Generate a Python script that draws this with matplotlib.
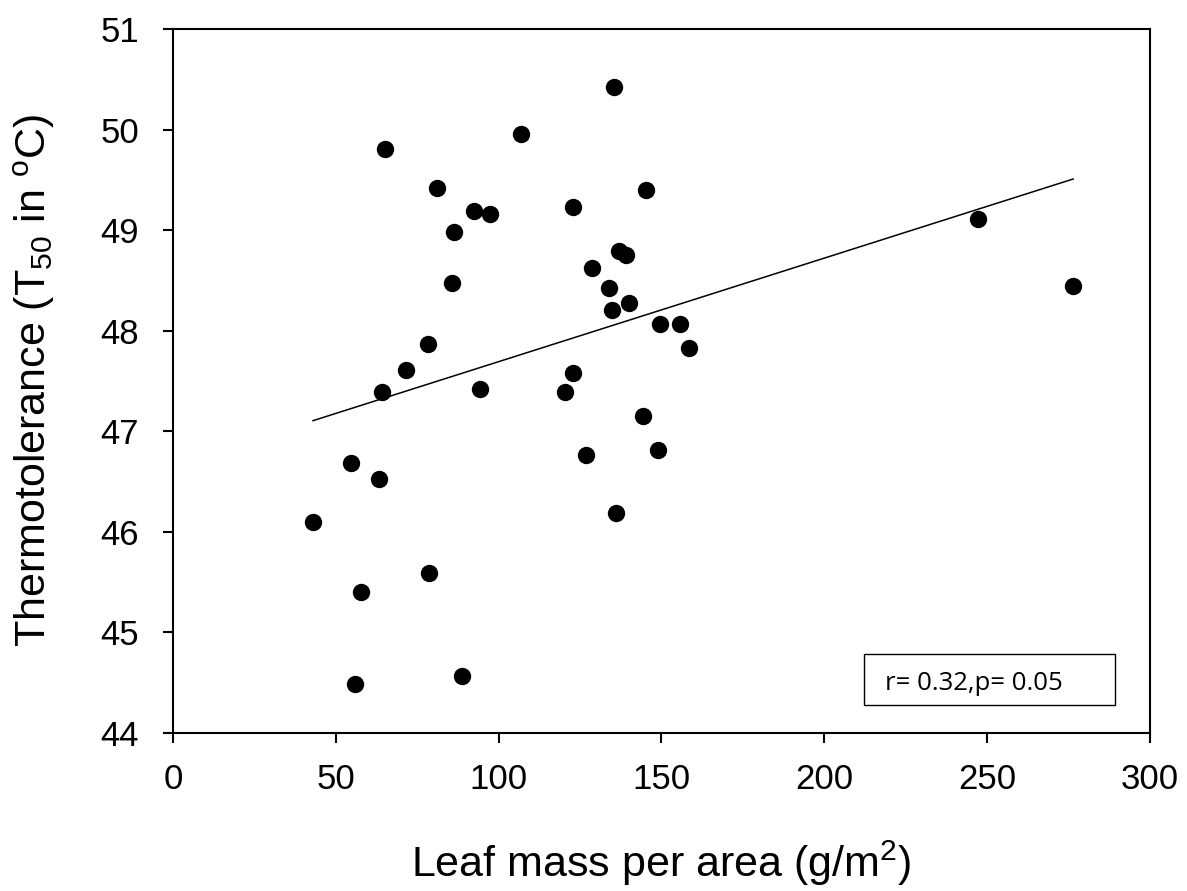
import numpy as np
import matplotlib

matplotlib.use("Agg")
import matplotlib.pyplot as plt
from matplotlib.patches import Rectangle

# leaf mass per area (g/m2) and T50 (degC)
LMA = [43.0, 54.8, 55.8, 57.6, 63.3, 64.3, 65.2, 71.5, 78.2, 78.5,
       81.2, 85.7, 86.4, 88.9, 92.3, 94.4, 97.3, 106.8, 120.4, 122.9,
       122.9, 126.7, 128.6, 134.0, 134.9, 135.3, 136.1, 137.0, 139.1, 139.9,
       144.4, 145.2, 148.8, 149.5, 155.8, 158.5, 247.3, 276.4]
T50 = [46.10, 46.68, 44.49, 45.40, 46.53, 47.39, 49.81, 47.61, 47.87, 45.59,
       49.42, 48.47, 48.98, 44.57, 49.19, 47.42, 49.16, 49.96, 47.39, 49.23,
       47.58, 46.76, 48.62, 48.42, 48.21, 50.42, 46.19, 48.79, 48.75, 48.28,
       47.15, 49.40, 46.81, 48.07, 48.07, 47.83, 49.11, 48.44]
STATS_TEXT = "r= 0.32,p= 0.05"
X_TICKS = [0, 50, 100, 150, 200, 250, 300]
Y_TICKS = [44, 45, 46, 47, 48, 49, 50, 51]


def main() -> None:
    plt.rcParams["font.family"] = ["Liberation Sans", "DejaVu Sans"]
    plt.rcParams["mathtext.fontset"] = "custom"
    plt.rcParams["mathtext.rm"] = "Liberation Sans"
    plt.rcParams["mathtext.it"] = "Liberation Sans"

    x = np.asarray(LMA, dtype=float)
    y = np.asarray(T50, dtype=float)
    slope, intercept = np.polyfit(x, y, 1)
    fit_x = np.array([x.min(), x.max()])

    fig = plt.figure(figsize=(11.87, 8.91), dpi=100)
    ax = fig.add_axes([0.1457, 0.1773, 0.8231, 0.7902])
    ax.plot(fit_x, intercept + slope * fit_x, color="black", linewidth=1.1, zorder=2)
    ax.plot(x, y, "o", color="black", markersize=12.5, markeredgewidth=0, zorder=3)

    ax.set_xlim(0, 300)
    ax.set_ylim(44, 51)
    ax.set_xticks(X_TICKS)
    ax.set_yticks(Y_TICKS)
    for spine in ax.spines.values():
        spine.set_linewidth(1.5)
    ax.tick_params(axis="both", direction="out", length=7.5, width=1.5, labelsize=25)
    ax.tick_params(axis="x", pad=14)
    ax.tick_params(axis="y", pad=17)

    ax.set_xlabel(r"Leaf mass per area (g/m$\mathregular{^2}$)", fontsize=31, labelpad=31)
    ax.set_ylabel(r"Thermotolerance (T$\mathregular{_{50}}$ in $\mathregular{^o}$C)", fontsize=31, labelpad=31)

    ax.add_patch(Rectangle((0.7073, 0.0393), 0.2569, 0.0724, transform=ax.transAxes,
                           facecolor="white", edgecolor="black", linewidth=1.0, zorder=4))
    ax.text(0.7288, 0.071, STATS_TEXT, transform=ax.transAxes, fontsize=18.5,
            family=["Open Sans", "DejaVu Sans"], va="center", ha="left", zorder=5)

    fig.savefig("out.png", dpi=100)
    plt.close(fig)


if __name__ == "__main__":
    main()
